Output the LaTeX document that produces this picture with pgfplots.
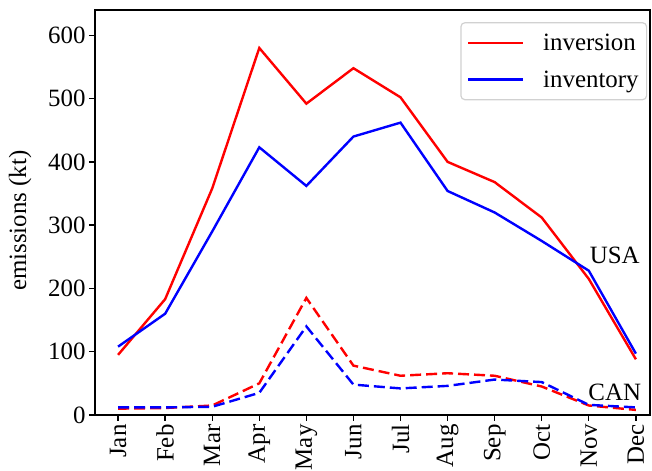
\documentclass[border=0pt]{standalone}
\usepackage{fontspec}
\setmainfont{Liberation Serif}
\usepackage{pgfplots}
\pgfplotsset{compat=1.18}
\begin{document}
\begin{tikzpicture}
\begin{axis}[
  scale only axis, width=555bp, height=405bp,
  xmin=-0.49, xmax=11.3, ymin=0, ymax=640,
  xtick={0,...,11},
  xticklabels={Jan,Feb,Mar,Apr,May,Jun,Jul,Aug,Sep,Oct,Nov,Dec},
  xticklabel style={rotate=90, anchor=east},
  ytick={0,100,200,300,400,500,600},
  tick align=outside, xtick pos=bottom, ytick pos=left,
  major tick length=6bp,
  /pgf/number format/assume math mode=true,
  ticklabel style={font=\fontsize{25}{27}\selectfont},
  ylabel={emissions (kt)},
  ylabel style={font=\fontsize{25}{27}\selectfont, at={(axis description cs:-0.135,0.48)}, anchor=center},
  axis line style={line width=1.5bp},
  every tick/.style={line width=1.3bp, black},
  legend style={at={(0.995,0.97)}, anchor=north east, draw=black!18, line width=1.2bp, rounded corners=4bp, font=\fontsize{25}{27}\selectfont, inner xsep=6bp, inner ysep=9bp, row sep=15bp},
  legend cell align=left,
  legend image code/.code={\draw[#1, line width=2.4bp] (0cm,0cm) -- (1.95cm,0cm);},
]
\coordinate (sw) at (rel axis cs:0,0);
\coordinate (ne) at (rel axis cs:1,1);
\addplot[red, line width=2.4bp] coordinates {(0,95) (1,183) (2,358) (3,580) (4,492) (5,548) (6,502) (7,400) (8,368) (9,312) (10,215) (11,88)};
\addlegendentry{\ \ \,inversion}
\addplot[blue, line width=2.4bp] coordinates {(0,108) (1,160) (2,290) (3,423) (4,362) (5,440) (6,462) (7,354) (8,320) (9,275) (10,228) (11,97)};
\addlegendentry{\ \ \,inventory}
\addplot[red, line width=2.4bp, dash pattern=on 11bp off 5bp, forget plot] coordinates {(0,10) (1,11) (2,15) (3,50) (4,185) (5,78) (6,62) (7,66) (8,62) (9,45) (10,15) (11,8)};
\addplot[blue, line width=2.4bp, dash pattern=on 11bp off 5bp, forget plot] coordinates {(0,12) (1,12) (2,13) (3,35) (4,140) (5,48) (6,42) (7,46) (8,56) (9,52) (10,16) (11,12)};
\node[font=\fontsize{25}{27}\selectfont] at (axis cs:10.55,253) {USA};
\node[font=\fontsize{25}{27}\selectfont] at (axis cs:10.55,36) {CAN};
\end{axis}
\pgfresetboundingbox
\path[use as bounding box] ([shift={(-95bp,-56bp)}]sw) rectangle ([shift={(2bp,10bp)}]ne);
\end{tikzpicture}
\end{document}
